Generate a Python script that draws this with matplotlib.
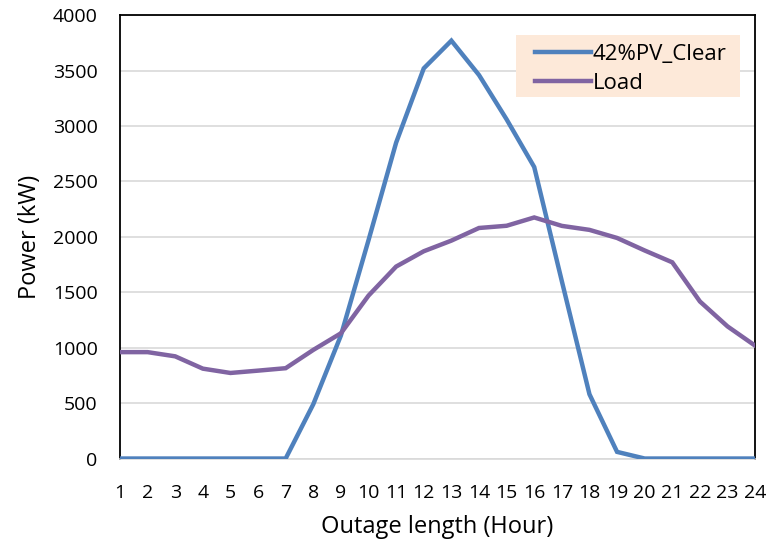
import matplotlib.pyplot as plt
from matplotlib.patches import Rectangle

plt.rcParams['font.family'] = ['Open Sans', 'DejaVu Sans']

hours = list(range(1, 25))
pv_clear = [0, 0, 0, 0, 0, 0, 0, 490, 1110, 1970, 2850, 3520, 3770, 3460, 3060, 2630,
            1600, 580, 60, 0, 0, 0, 0, 0]
load = [960, 960, 922, 811, 772, 793, 815, 980, 1130, 1470, 1732, 1870, 1966, 2080,
        2100, 2175, 2099, 2063, 1990, 1877, 1770, 1417, 1192, 1018]

fig = plt.figure(figsize=(7.69, 5.42), dpi=100)
ax = fig.add_axes([0.156, 0.154, 0.826, 0.818])

ax.plot(hours, pv_clear, color='#4F81BD', lw=3.2, label='42%PV_Clear',
        solid_joinstyle='miter', zorder=3)
ax.plot(hours, load, color='#8064A2', lw=3.2, label='Load',
        solid_joinstyle='miter', zorder=3)

ax.set_xlim(1, 24)
ax.set_ylim(0, 4000)
ax.set_xticks(hours)
ax.set_yticks(range(0, 4001, 500))
ax.tick_params(length=0, labelsize=14)
ax.tick_params(axis='x', pad=18)
ax.tick_params(axis='y', pad=16)

ax.grid(axis='y', color='#D9D9D9', lw=1.2)
ax.set_axisbelow(True)
for side in ['left', 'top', 'right']:
    ax.spines[side].set_color('black')
    ax.spines[side].set_linewidth(1.3)
ax.spines['bottom'].set_color('#D9D9D9')
ax.spines['bottom'].set_linewidth(1.2)

ax.set_xlabel('Outage length (Hour)', fontsize=17, labelpad=10)
ax.set_ylabel('Power (kW)', fontsize=17, labelpad=8)

# peach background box behind the legend
ax.add_patch(Rectangle((0.6236, 0.815), 0.3528, 0.1398, transform=ax.transAxes,
                       facecolor='#FDE9D9', edgecolor='none', zorder=4))
leg = ax.legend(loc='center left', bbox_to_anchor=(0.6535, 0.878), borderaxespad=0,
                fontsize=16, frameon=False, handlelength=2.5,
                handletextpad=0.1, borderpad=0, labelspacing=0.36)
leg.set_zorder(5)

fig.savefig('out.png')
